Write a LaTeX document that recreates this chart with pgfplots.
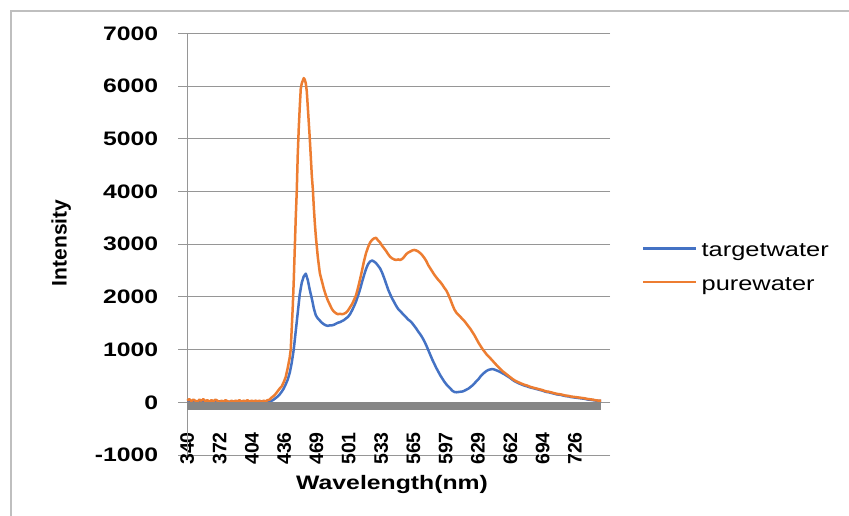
\documentclass[border=0pt]{standalone}
\usepackage{fontspec}
\setmainfont{Liberation Sans}
\newfontfamily\widefont[FakeStretch=1.27]{Liberation Sans}
\usepackage{pgfplots}
\pgfplotsset{compat=1.18}
\definecolor{sblue}{HTML}{4472C4}
\definecolor{sorange}{HTML}{ED7D31}
\definecolor{gridc}{RGB}{150,150,150}
\definecolor{axisbar}{RGB}{134,134,134}
\definecolor{framec}{RGB}{191,191,191}
\begin{document}
\begin{tikzpicture}
\useasboundingbox (0,0) rectangle (849bp,516bp);
\fill[white] (0,0) rectangle (849bp,516bp);
\draw[framec, line width=1.5bp] (11bp,0) -- (11bp,505bp) -- (849bp,505bp);
\begin{axis}[
 at={(187.3bp,61bp)}, anchor=south west,
 scale only axis, width=413.7bp, height=421.7bp,
 xmin=340, xmax=752, ymin=-1000, ymax=7000,
 axis line style={draw=none},
 clip=false,
 ytick={-1000,0,1000,2000,3000,4000,5000,6000,7000},
 yticklabels={-1000,0,1000,2000,3000,4000,5000,6000,7000},
 ymajorgrids, grid style={gridc, line width=1bp},
 tick align=outside, major tick length=9bp,
 ytick style={gridc, line width=1bp},
 xtick={340,372.2,404.3,436.5,468.7,500.8,533.0,565.2,597.4,629.5,661.7,693.9,726.0},
 xticklabels={340,372,404,436,469,501,533,565,597,629,662,694,726},
 xtick style={draw=none},
 yticklabel style={font=\widefont\bfseries\fontsize{19.5bp}{20bp}\selectfont, anchor=east, inner sep=0pt, xshift=-20bp},
 xticklabel style={font=\bfseries\fontsize{19.5bp}{20bp}\selectfont, rotate=90, anchor=east, inner sep=0pt, xshift=32bp},
 xlabel={Wavelength(nm)},
 xlabel style={font=\widefont\bfseries\fontsize{19.5bp}{20bp}\selectfont, at={(axis description cs:0.495,-0.07)}, anchor=center, inner sep=0pt},
 ylabel={Intensity},
 ylabel style={font=\bfseries\fontsize{21bp}{22bp}\selectfont, at={(axis description cs:-0.305,0.503)}, anchor=center, rotate=0, inner sep=0pt},
 legend style={at={(axis description cs:1.099,0.444)}, anchor=west, draw=none, fill=none, inner sep=0pt, row sep=19bp, font=\widefont\fontsize{20bp}{22bp}\selectfont, nodes={inner sep=0pt}},
 legend image code/.code={\draw[#1, line width=2.5bp] (0bp,0.5ex) -- (53bp,0.5ex);},
 legend cell align=left,
 /tikz/every odd column/.append style={column sep=4bp},
]
\draw[gridc, line width=1bp] (axis cs:340,-1000) -- (axis cs:340,7000);
\addplot[sblue, line width=2.5bp, line join=round] coordinates {
(340,10)(342,20)(344,5)(346,15)(348,10)(350,20)(352,5)(354,15)(356,10)(358,20)(360,5)(362,15)(364,10)(366,5)(368,15)(370,10)(372,20)(374,5)(376,10)(378,15)(380,5)(382,10)(384,20)(386,5)(388,15)(390,10)(392,5)(394,15)(396,10)(398,20)(400,5)(402,10)(404,15)(406,5)(408,10)(410,15)(412,10)(414,20)(416,10)(418,15)(420,10)(422,20)(424,30)(426,50)(428,80)(430,110)(432,150)(434,200)(436,260)(438,340)(440,430)(442,560)(444,750)(446,1000)(448,1350)(450,1700)(452,2050)(454,2270)(456,2390)(458,2440)(460,2320)(462,2130)(464,1970)(466,1780)(468,1650)(470,1590)(472,1550)(474,1510)(476,1480)(478,1460)(480,1450)(482,1460)(484,1460)(486,1470)(488,1490)(490,1510)(492,1520)(494,1540)(496,1560)(498,1590)(500,1620)(502,1670)(504,1740)(506,1820)(508,1910)(510,2020)(512,2140)(514,2280)(516,2410)(518,2530)(520,2620)(522,2670)(524,2690)(526,2670)(528,2640)(530,2590)(532,2540)(534,2460)(536,2360)(538,2250)(540,2140)(542,2050)(544,1970)(546,1900)(548,1830)(550,1770)(552,1730)(554,1690)(556,1650)(558,1610)(560,1570)(562,1540)(564,1500)(566,1450)(568,1400)(570,1340)(572,1290)(574,1230)(576,1160)(578,1080)(580,990)(582,900)(584,810)(586,730)(588,650)(590,580)(592,510)(594,450)(596,390)(598,340)(600,300)(602,260)(604,220)(606,195)(608,190)(610,195)(612,200)(614,205)(616,220)(618,240)(620,260)(622,290)(624,320)(626,360)(628,400)(630,440)(632,490)(634,530)(636,565)(638,595)(640,615)(642,625)(644,630)(646,620)(648,605)(650,590)(652,570)(654,550)(656,530)(658,505)(660,480)(662,455)(664,425)(666,400)(668,380)(670,360)(672,345)(674,330)(676,315)(678,305)(680,290)(682,280)(684,270)(686,260)(688,250)(690,240)(692,230)(694,220)(696,205)(698,195)(700,190)(702,180)(704,170)(706,160)(708,150)(710,145)(712,140)(714,130)(716,120)(718,115)(720,110)(722,100)(724,95)(726,90)(728,85)(730,80)(732,75)(734,70)(736,65)(738,55)(740,50)(742,45)(744,40)(746,35)(748,30)(750,25)(752,25)
};
\addlegendentry{targetwater}
\addplot[sorange, line width=2.5bp, line join=round] coordinates {
(340,30)(342,60)(344,20)(346,50)(348,30)(350,10)(352,50)(354,30)(356,60)(358,20)(360,40)(362,10)(364,40)(366,20)(368,50)(370,30)(372,0)(374,30)(376,10)(378,40)(380,20)(382,0)(384,30)(386,10)(388,30)(390,20)(392,40)(394,10)(396,30)(398,20)(400,40)(402,10)(404,30)(406,20)(408,30)(410,20)(412,30)(414,10)(416,30)(418,20)(420,40)(422,50)(424,90)(426,120)(428,160)(430,210)(432,260)(434,300)(436,380)(438,480)(440,650)(442,850)(443,1000)(444,1400)(445,1800)(446,2300)(447,2900)(448,3500)(449,4000)(450,4700)(451,5200)(452,5600)(453,5950)(454,6050)(455,6100)(456,6150)(457,6120)(458,6050)(459,5900)(460,5600)(461,5300)(462,5000)(463,4650)(464,4300)(465,4050)(466,3700)(467,3400)(468,3150)(469,2950)(470,2750)(471,2600)(472,2450)(474,2300)(476,2150)(478,2030)(480,1930)(482,1850)(484,1770)(486,1720)(488,1690)(490,1670)(492,1680)(494,1670)(496,1680)(498,1700)(500,1740)(502,1800)(504,1860)(506,1940)(508,2030)(510,2170)(512,2330)(514,2500)(516,2680)(518,2830)(520,2940)(522,3030)(524,3080)(526,3110)(528,3120)(530,3070)(532,3030)(534,2970)(536,2920)(538,2870)(540,2810)(542,2760)(544,2730)(546,2710)(548,2700)(550,2710)(552,2700)(554,2720)(556,2760)(558,2810)(560,2840)(562,2860)(564,2880)(566,2890)(568,2880)(570,2860)(572,2830)(574,2790)(576,2740)(578,2680)(580,2600)(582,2540)(584,2480)(586,2420)(588,2370)(590,2320)(592,2280)(594,2230)(596,2170)(598,2120)(600,2040)(602,1950)(604,1850)(606,1760)(608,1700)(610,1660)(612,1620)(614,1580)(616,1540)(618,1490)(620,1440)(622,1390)(624,1330)(626,1270)(628,1200)(630,1130)(632,1070)(634,1010)(636,960)(638,910)(640,870)(642,830)(644,790)(646,745)(648,705)(650,665)(652,625)(654,590)(656,560)(658,530)(660,500)(662,470)(664,440)(666,415)(668,395)(670,378)(672,360)(674,345)(676,330)(678,320)(680,305)(682,290)(684,280)(686,270)(688,260)(690,250)(692,240)(694,230)(696,215)(698,205)(700,200)(702,190)(704,180)(706,170)(708,160)(710,155)(712,150)(714,140)(716,130)(718,125)(720,120)(722,110)(724,105)(726,100)(728,95)(730,90)(732,85)(734,80)(736,75)(738,65)(740,60)(742,55)(744,50)(746,40)(748,35)(750,30)(752,30)
};
\addlegendentry{purewater}
\fill[axisbar] (axis cs:340,0) rectangle (axis cs:752,-138);
\end{axis}
\end{tikzpicture}
\end{document}
